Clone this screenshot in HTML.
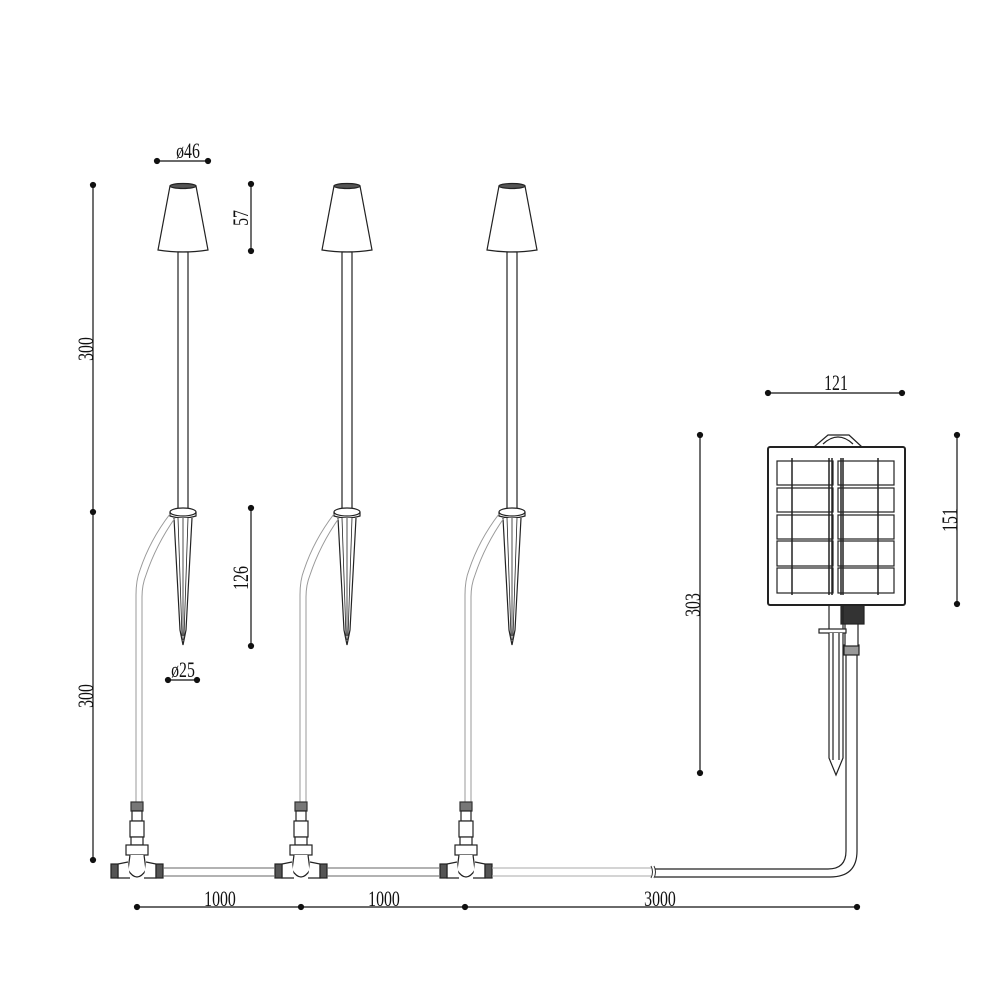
<!DOCTYPE html>
<html><head><style>html,body{margin:0;padding:0;background:#fff}svg{display:block}
text{font-family:"Liberation Serif",serif;font-size:22px;fill:#111}</style></head><body>
<svg width="1000" height="1000" viewBox="0 0 1000 1000" xmlns="http://www.w3.org/2000/svg">
<defs>
<g id="lamp" fill="none" stroke="#222" stroke-width="1.2">
  <path d="M170,186 L158,250 Q183,254 208,250 L196,186 Z" fill="#fff"/>
  <ellipse cx="183" cy="186" rx="13" ry="2.5" fill="#555"/>
  <rect x="178" y="252" width="10" height="258" fill="#fff"/>
  <ellipse cx="183" cy="512" rx="13" ry="4" fill="#fff"/>
  <path d="M170,512 L170,516 Q183,520 196,516 L196,512"/>
  <path d="M174,518 L180,630 L183,645 L186,630 L192,518" fill="#fff"/>
  <path d="M178,518 L182,636 M183,518 L183,640 M188,518 L184,636" stroke-width="0.8"/>
  <path d="M170,514 Q150,540 140,570 Q136,580 136,595 L136,802" stroke="#999" stroke-width="1"/>
  <path d="M175,518 Q156,545 146,575 Q142,585 142,597 L142,802" stroke="#999" stroke-width="1"/>
  <rect x="131" y="802" width="12" height="9" fill="#777" stroke="#333"/>
  <rect x="132" y="811" width="10" height="10" fill="#fff"/>
  <rect x="130" y="821" width="14" height="16" fill="#fff"/>
  <rect x="131" y="837" width="12" height="8" fill="#fff"/>
  <rect x="126" y="845" width="22" height="10" fill="#fff"/>
  <path d="M130,855 L128,870 Q137,884 146,870 L144,855" fill="#fff"/>
  <path d="M128,862 L118,864 L118,878 L130,878 M146,862 L156,864 L156,878 L144,878" fill="#fff"/>
  <rect x="111" y="864" width="7" height="14" fill="#555"/>
  <rect x="156" y="864" width="7" height="14" fill="#555"/>
</g>
</defs>
<use href="#lamp"/>
<use href="#lamp" transform="translate(164,0)"/>
<use href="#lamp" transform="translate(329,0)"/>
<g fill="none" stroke="#666" stroke-width="1">
  <path d="M163,868 L275,868 M163,876 L275,876"/>
  <path d="M327,868 L439,868 M327,876 L439,876"/>
  <path d="M492,868 L651,868 M492,876 L651,876" stroke="#aaa"/>
  <path d="M651,866 Q654,872 651,878 M654,866 Q657,872 654,878" stroke="#333"/>
</g>
<g fill="none" stroke="#222" stroke-width="1.2">
  <path d="M655,869 L828,869 Q846,869 846,851 L846,655" />
  <path d="M655,877 L830,877 Q857,877 857,851 L857,655" />
  <rect x="844" y="645" width="15" height="10" fill="#999"/>
  <rect x="845" y="622" width="13" height="24" fill="#fff"/>
  <rect x="841" y="604" width="23" height="20" fill="#333"/>
  <path d="M829,605 L829,630 M843,605 L843,630"/>
  <rect x="819" y="629" width="27" height="4" fill="#fff"/>
  <path d="M829,633 L829,758 L836,775 L843,758 L843,633 M833,633 L833,760 M839,633 L839,760" fill="#fff"/>
  <path d="M814,447 L828,435 L849,435 L862,447" fill="#fff"/>
  <path d="M823,444 Q838,430 853,444"/>
  <rect x="768" y="447" width="137" height="158" rx="2" fill="#fff" stroke-width="2"/>
  <g stroke-width="1.2">
    <rect x="777" y="461" width="56" height="24"/><rect x="838" y="461" width="56" height="24"/>
    <rect x="777" y="488" width="56" height="24"/><rect x="838" y="488" width="56" height="24"/>
    <rect x="777" y="515" width="56" height="24"/><rect x="838" y="515" width="56" height="24"/>
    <rect x="777" y="541" width="56" height="25"/><rect x="838" y="541" width="56" height="25"/>
    <rect x="777" y="568" width="56" height="25"/><rect x="838" y="568" width="56" height="25"/>
    <path d="M792,458 L792,595 M829,458 L829,595 M832,458 L832,595 M841,458 L841,595 M843,458 L843,595 M878,458 L878,595" stroke-width="1.5"/>
  </g>
</g>
<g stroke="#111" stroke-width="1.2" fill="#111">
  <line x1="157" y1="161" x2="208" y2="161"/><circle cx="157" cy="161" r="2.5"/><circle cx="208" cy="161" r="2.5"/>
  <line x1="251" y1="184" x2="251" y2="251"/><circle cx="251" cy="184" r="2.5"/><circle cx="251" cy="251" r="2.5"/>
  <line x1="251" y1="508" x2="251" y2="646"/><circle cx="251" cy="508" r="2.5"/><circle cx="251" cy="646" r="2.5"/>
  <line x1="168" y1="680" x2="197" y2="680"/><circle cx="168" cy="680" r="2.5"/><circle cx="197" cy="680" r="2.5"/>
  <line x1="93" y1="185" x2="93" y2="860"/><circle cx="93" cy="185" r="2.5"/><circle cx="93" cy="512" r="2.5"/><circle cx="93" cy="860" r="2.5"/>
  <line x1="137" y1="907" x2="857" y2="907"/><circle cx="137" cy="907" r="2.5"/><circle cx="301" cy="907" r="2.5"/><circle cx="465" cy="907" r="2.5"/><circle cx="857" cy="907" r="2.5"/>
  <line x1="768" y1="393" x2="902" y2="393"/><circle cx="768" cy="393" r="2.5"/><circle cx="902" cy="393" r="2.5"/>
  <line x1="957" y1="435" x2="957" y2="604"/><circle cx="957" cy="435" r="2.5"/><circle cx="957" cy="604" r="2.5"/>
  <line x1="700" y1="435" x2="700" y2="773"/><circle cx="700" cy="435" r="2.5"/><circle cx="700" cy="773" r="2.5"/>
</g>
<g>
  <text transform="translate(188,158) scale(0.72,1)" text-anchor="middle">ø46</text>
  <text transform="translate(183,677) scale(0.72,1)" text-anchor="middle">ø25</text>
  <text transform="translate(220,906) scale(0.72,1)" text-anchor="middle">1000</text>
  <text transform="translate(384,906) scale(0.72,1)" text-anchor="middle">1000</text>
  <text transform="translate(660,906) scale(0.72,1)" text-anchor="middle">3000</text>
  <text transform="translate(836,390) scale(0.72,1)" text-anchor="middle">121</text>
  <text transform="translate(248,218) rotate(-90) scale(0.72,1)" text-anchor="middle">57</text>
  <text transform="translate(248,578) rotate(-90) scale(0.72,1)" text-anchor="middle">126</text>
  <text transform="translate(93,349) rotate(-90) scale(0.72,1)" text-anchor="middle">300</text>
  <text transform="translate(93,696) rotate(-90) scale(0.72,1)" text-anchor="middle">300</text>
  <text transform="translate(700,605) rotate(-90) scale(0.72,1)" text-anchor="middle">303</text>
  <text transform="translate(957,520) rotate(-90) scale(0.72,1)" text-anchor="middle">151</text>
</g>
</svg>
</body></html>
